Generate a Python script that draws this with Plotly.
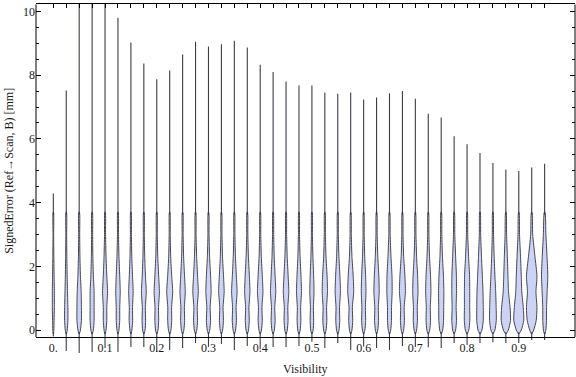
import plotly.graph_objects as go

# ---------------- data ----------------
visibility = [0.0, 0.025, 0.05, 0.075, 0.1, 0.125, 0.15, 0.175, 0.2, 0.225,
              0.25, 0.275, 0.3, 0.325, 0.35, 0.375, 0.4, 0.425, 0.45, 0.475,
              0.5, 0.525, 0.55, 0.575, 0.6, 0.625, 0.65, 0.675, 0.7, 0.725,
              0.75, 0.775, 0.8, 0.825, 0.85, 0.875, 0.9, 0.925, 0.95]

err_max = [4.29, 7.52, 11.0, 11.0, 11.0, 9.80, 9.03, 8.37, 7.87, 8.15,
           8.65, 9.05, 8.90, 8.97, 9.08, 8.87, 8.33, 8.10, 7.80, 7.68,
           7.68, 7.46, 7.42, 7.46, 7.24, 7.30, 7.43, 7.50, 7.26, 6.79,
           6.67, 6.08, 5.83, 5.56, 5.24, 5.04, 4.99, 5.10, 5.22]

err_min = [-0.20, -0.66, -0.72, -0.69, -0.56, -0.69, -0.53, -0.53, -0.69, -0.63,
           -0.56, -0.41, -0.53, -0.44, -0.63, -0.50, -0.60, -0.53, -0.53, -0.50,
           -0.37, -0.56, -0.41, -0.63, -0.52, -0.56, -0.63, -0.50, -0.53, -0.54,
           -0.56, -0.41, -0.47, -0.41, -0.38, -0.41, -0.41, -0.31, -0.31]

# relative density (violin width) at these error levels
density_levels = [-0.12, 0.0, 0.3, 0.7, 1.2, 1.7, 2.3, 3.0, 3.7]
density = [
    [0.4, 1.0, 1.5, 2.0, 2.0, 1.5, 1.0, 0.6, 0.4],
    [0.5, 2.0, 3.3, 3.3, 2.5, 1.8, 1.2, 0.8, 0.5],
    [0.5, 2.5, 4.5, 4.5, 4.0, 2.5, 1.5, 1.0, 0.6],
    [0.5, 2.5, 4.0, 4.0, 4.0, 2.5, 1.5, 1.0, 0.6],
    [0.5, 2.0, 3.5, 3.5, 5.0, 3.5, 2.0, 1.0, 0.5],
    [0.5, 2.0, 3.5, 3.5, 4.5, 3.5, 2.0, 1.0, 0.5],
    [0.5, 2.0, 3.5, 3.2, 4.5, 3.2, 1.8, 1.0, 0.5],
    [0.5, 2.5, 3.5, 3.0, 4.8, 3.2, 1.8, 1.0, 0.5],
    [0.5, 2.5, 3.8, 3.5, 5.3, 3.8, 2.0, 1.0, 0.5],
    [0.5, 2.5, 4.0, 3.8, 6.0, 4.0, 2.0, 1.0, 0.5],
    [0.5, 2.5, 4.0, 3.5, 5.3, 3.8, 2.0, 1.0, 0.5],
    [0.5, 2.5, 4.0, 3.3, 5.5, 4.0, 2.2, 1.0, 0.5],
    [0.5, 2.5, 4.2, 3.3, 5.3, 4.2, 2.2, 1.1, 0.5],
    [0.5, 2.5, 4.0, 3.3, 5.5, 4.2, 2.2, 1.1, 0.5],
    [0.5, 2.5, 4.2, 3.5, 5.5, 4.0, 2.2, 1.1, 0.5],
    [0.5, 2.5, 4.0, 3.3, 5.3, 4.2, 2.3, 1.1, 0.5],
    [0.5, 2.5, 4.2, 3.5, 5.5, 4.2, 2.2, 1.1, 0.5],
    [0.5, 2.5, 4.0, 3.3, 5.3, 4.0, 2.2, 1.1, 0.5],
    [0.5, 2.5, 4.0, 3.5, 5.5, 4.2, 2.3, 1.1, 0.5],
    [0.5, 2.5, 3.8, 3.3, 5.0, 4.0, 2.2, 1.1, 0.5],
    [0.5, 2.5, 3.5, 3.0, 4.2, 3.5, 2.0, 1.0, 0.5],
    [0.5, 2.5, 4.0, 3.5, 5.3, 4.5, 2.3, 1.1, 0.5],
    [0.5, 2.5, 4.0, 3.5, 5.3, 4.3, 2.3, 1.1, 0.5],
    [0.5, 2.5, 4.0, 3.3, 6.0, 5.0, 2.5, 1.2, 0.5],
    [0.5, 2.5, 4.0, 3.5, 4.7, 4.0, 2.2, 1.1, 0.5],
    [0.5, 2.5, 4.0, 3.5, 5.3, 4.5, 2.5, 1.2, 0.5],
    [0.5, 2.5, 4.0, 4.0, 5.3, 5.0, 3.0, 1.3, 0.5],
    [0.5, 2.5, 4.0, 3.5, 6.0, 5.0, 2.5, 1.2, 0.5],
    [0.5, 2.5, 4.2, 3.8, 5.3, 4.5, 2.5, 1.2, 0.5],
    [0.5, 2.8, 4.5, 4.0, 5.3, 4.5, 2.5, 1.2, 0.5],
    [0.5, 3.0, 4.7, 5.0, 5.3, 4.5, 2.5, 1.2, 0.5],
    [0.5, 3.0, 4.7, 4.0, 4.7, 4.5, 3.0, 1.3, 0.5],
    [0.6, 3.5, 5.5, 5.3, 5.3, 5.0, 3.0, 1.3, 0.5],
    [0.6, 4.0, 6.5, 6.5, 6.0, 4.7, 3.0, 1.3, 0.5],
    [0.6, 4.0, 6.7, 6.5, 5.5, 4.0, 2.5, 1.2, 0.5],
    [0.7, 5.0, 9.3, 8.5, 5.3, 4.2, 3.0, 1.5, 0.5],
    [0.7, 5.0, 10.0, 9.0, 6.0, 5.0, 3.5, 1.5, 0.5],
    [0.7, 4.0, 9.0, 10.5, 8.5, 10.5, 6.5, 2.0, 0.6],
    [0.5, 2.5, 3.7, 3.8, 5.0, 6.3, 4.8, 2.5, 0.7],
]

x_tick_vals = [0.0, 0.1, 0.2, 0.3, 0.4, 0.5, 0.6, 0.7, 0.8, 0.9]
x_tick_text = ["0.", "0.1", "0.2", "0.3", "0.4", "0.5", "0.6", "0.7", "0.8", "0.9"]
y_tick_vals = [0, 2, 4, 6, 8, 10]
y_tick_text = ["0", "2", "4", "6", "8", "10"]

# ---------------- styling / layout ----------------
X_RANGE = [-0.0335, 1.0087]
Y_RANGE = [-0.815, 10.235]
FRAME_BOTTOM = -0.22
FRAME_TOP = 10.22
PX_TO_X = (X_RANGE[1] - X_RANGE[0]) / 539.0   # data units per pixel
FILL = "rgb(204,211,245)"
EDGE = "rgb(70,70,80)"
TAIL = "rgb(60,60,70)"
FONT = "Liberation Serif"
TXT = "#1a1a1a"

fig = go.Figure()

for xv, mn, mx, dens in zip(visibility, err_min, err_max, density):
    # body of the violin: right side up, left side down (flat, sub-pixel ends)
    half = [w * 0.5 * PX_TO_X for w in dens]
    xs_path = [xv + h for h in half] + [xv - h for h in reversed(half)]
    ys_path = density_levels + list(reversed(density_levels))
    fig.add_trace(go.Scatter(
        x=xs_path, y=ys_path, mode="lines", fill="toself", fillcolor=FILL,
        line=dict(color=EDGE, width=1, shape="spline", smoothing=0.6,
                  simplify=False),
        hoverinfo="skip", showlegend=False))
    # thin tails out to the extreme values
    fig.add_trace(go.Scatter(
        x=[xv, xv, None, xv, xv],
        y=[mn, density_levels[0] + 0.05, None, density_levels[-1] - 0.1, mx],
        mode="lines", line=dict(color=TAIL, width=1.1),
        hoverinfo="skip", showlegend=False))

# invisible trace to carry the top axis
fig.add_trace(go.Scatter(x=[visibility[0]], y=[0], xaxis="x2", mode="markers",
                         marker=dict(opacity=0), hoverinfo="skip", showlegend=False))

pos_x = (FRAME_BOTTOM - Y_RANGE[0]) / (Y_RANGE[1] - Y_RANGE[0])

fig.update_layout(
    width=576, height=377,
    margin=dict(l=36, r=1, t=4, b=21, autoexpand=False),
    paper_bgcolor="white", plot_bgcolor="white",
    font=dict(family=FONT, size=12, color=TXT),
    xaxis=dict(range=X_RANGE, anchor="free", position=pos_x, automargin=False,
               tickmode="array", tickvals=x_tick_vals, ticktext=x_tick_text,
               ticks="", showgrid=False, zeroline=False,
               showline=True, linecolor="black", linewidth=1,
               tickfont=dict(family=FONT, size=12, color=TXT)),
    xaxis2=dict(range=X_RANGE, overlaying="x", side="top", anchor="y",
                automargin=False,
                tickmode="array", tickvals=visibility, ticks="inside",
                ticklen=4, tickwidth=1, tickcolor="black",
                showticklabels=False, showgrid=False, zeroline=False,
                showline=True, linecolor="black", linewidth=1),
    yaxis=dict(range=Y_RANGE, automargin=False, tickmode="array",
               tickvals=y_tick_vals, ticktext=y_tick_text, ticks="inside",
               ticklen=5, tickwidth=1, tickcolor="black", mirror="ticks",
               showline=False, showgrid=False, zeroline=False,
               minor=dict(tickmode="array",
                          tickvals=[i * 0.5 for i in range(21)],
                          ticks="inside", ticklen=3, tickcolor="black",
                          showgrid=False),
               tickfont=dict(family=FONT, size=12, color=TXT)),
    showlegend=False,
)

# frame sides
fig.add_shape(type="line", xref="paper", yref="y", x0=0, x1=0,
              y0=FRAME_BOTTOM, y1=FRAME_TOP, line=dict(color="black", width=1))
fig.add_shape(type="line", xref="paper", yref="y", x0=1, x1=1,
              y0=FRAME_BOTTOM, y1=FRAME_TOP, line=dict(color="black", width=1))

fig.add_annotation(text="Visibility", xref="paper", yref="paper",
                   x=0.5, y=-0.037, xanchor="center", yanchor="middle",
                   showarrow=False, font=dict(family=FONT, size=12, color=TXT))
fig.add_annotation(text="SignedError (Ref→Scan, B) [mm]", xref="paper", yref="y",
                   x=-0.050, y=5.0, xanchor="center", yanchor="middle",
                   textangle=-90, showarrow=False,
                   font=dict(family=FONT, size=12, color=TXT))

fig.write_html("out.html",
               config={"displayModeBar": False},
               post_script="document.body.style.margin='0';"
                           "document.body.style.padding='0';")
